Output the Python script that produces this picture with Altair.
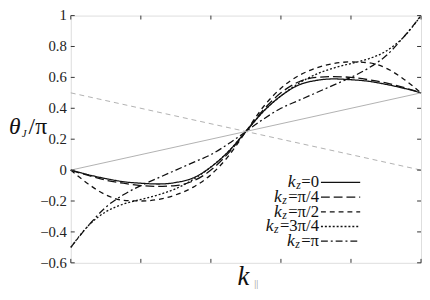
import altair as alt
import pandas as pd

# ---------------- data ----------------
k_par = [0.00, 0.05, 0.10, 0.15, 0.20, 0.25, 0.30, 0.35, 0.40, 0.45, 0.50,
         0.55, 0.60, 0.65, 0.70, 0.75, 0.80, 0.85, 0.90, 0.95, 1.00]

theta_kz0 = [0.00, -0.03, -0.055, -0.075, -0.085, -0.09, -0.08, -0.05, 0.02, 0.12, 0.25,
             0.38, 0.48, 0.55, 0.58, 0.59, 0.585, 0.575, 0.555, 0.53, 0.50]
theta_kz_pi4 = [0.00, -0.035, -0.065, -0.085, -0.10, -0.105, -0.10, -0.07, 0.00, 0.11, 0.25,
                0.39, 0.50, 0.57, 0.60, 0.605, 0.60, 0.585, 0.565, 0.535, 0.50]
theta_kz_pi2 = [0.00, -0.09, -0.16, -0.195, -0.20, -0.19, -0.16, -0.11, -0.03, 0.09, 0.25,
                0.41, 0.53, 0.61, 0.66, 0.69, 0.70, 0.695, 0.66, 0.59, 0.50]
theta_kz_3pi4 = [-0.50, -0.36, -0.27, -0.22, -0.19, -0.16, -0.12, -0.06, 0.02, 0.12, 0.25,
                 0.38, 0.48, 0.56, 0.62, 0.66, 0.69, 0.72, 0.77, 0.86, 1.00]
theta_kz_pi = [-0.50, -0.36, -0.24, -0.16, -0.10, -0.05, 0.00, 0.05, 0.10, 0.17, 0.25,
               0.33, 0.40, 0.45, 0.50, 0.55, 0.60, 0.66, 0.74, 0.86, 1.00]

series_names = ["kz=0", "kz=π/4", "kz=π/2", "kz=3π/4", "kz=π"]
legend_tails = ["=0", "=π/4", "=π/2", "=3π/4", "=π"]

ref_x = [0.0, 1.0]
ref_rise = [0.0, 0.5]
ref_fall = [0.5, 0.0]

y_ticks = [-0.6, -0.4, -0.2, 0.0, 0.2, 0.4, 0.6, 0.8, 1.0]
y_tick_labels = ["\u22120.6", "\u22120.4", "\u22120.2", "0", "0.2", "0.4", "0.6", "0.8", "1"]
x_ticks = [0.0, 0.2, 0.4, 0.6, 0.8, 1.0]

# ---------------- layout / style ----------------
W, H = 357, 252
SERIF = "Liberation Serif"
INK = "#111111"
dash_range = [[1, 0], [9, 4], [5, 4], [2, 2], [7, 3, 2, 3]]

all_series = [theta_kz0, theta_kz_pi4, theta_kz_pi2, theta_kz_3pi4, theta_kz_pi]
rows = []
for name, vals in zip(series_names, all_series):
    for xv, yv in zip(k_par, vals):
        rows.append({"k": xv, "theta": yv, "series": name})
curves_df = pd.DataFrame(rows)

xs = alt.Scale(domain=[0, 1], nice=False, zero=False)
ys = alt.Scale(domain=[-0.6, 1.0], nice=False, zero=False)
dash_scale = alt.Scale(domain=series_names, range=dash_range)
no_axis = alt.Axis(labels=False, ticks=False, domain=False, grid=False, title=None)

curves = alt.Chart(curves_df).mark_line(color=INK, strokeWidth=1.3, interpolate="monotone").encode(
    x=alt.X("k:Q", scale=xs, axis=no_axis),
    y=alt.Y("theta:Q", scale=ys, axis=no_axis),
    strokeDash=alt.StrokeDash("series:N", scale=dash_scale, legend=None),
    detail="series:N")

ref_df = pd.DataFrame({"k": ref_x, "rise": ref_rise, "fall": ref_fall})
rise = alt.Chart(ref_df).mark_line(color="#a8a8a8", strokeWidth=0.9).encode(x="k:Q", y="rise:Q")
fall = alt.Chart(ref_df).mark_line(color="#a8a8a8", strokeWidth=0.9, strokeDash=[5, 4]).encode(x="k:Q", y="fall:Q")

ytick_df = pd.DataFrame({"v": y_ticks, "lab": y_tick_labels})
xtick_df = pd.DataFrame({"v": x_ticks})
tl = 4
ytl = alt.Chart(ytick_df).mark_rule(color="#333", strokeWidth=1).encode(
    y="v:Q", x=alt.value(0), x2=alt.value(tl))
ytr = alt.Chart(ytick_df).mark_rule(color="#333", strokeWidth=1).encode(
    y="v:Q", x=alt.value(W - tl), x2=alt.value(W))
xtb = alt.Chart(xtick_df).mark_rule(color="#333", strokeWidth=1).encode(
    x="v:Q", y=alt.value(H), y2=alt.value(H - tl))
xtt = alt.Chart(xtick_df).mark_rule(color="#333", strokeWidth=1).encode(
    x="v:Q", y=alt.value(0), y2=alt.value(tl))
ylabels = alt.Chart(ytick_df).mark_text(font=SERIF, fontSize=15, align="right", baseline="middle",
                                        color="#222", dx=-4).encode(
    y="v:Q", x=alt.value(0), text="lab:N")

# ---------------- manual legend (labels left of the line samples) ----------------
char_w = {"=": 0.564, "0": 0.5, "2": 0.5, "3": 0.5, "4": 0.5, "/": 0.278, "π": 0.55}
dummy = pd.DataFrame({"a": [0]})
legend_layers = []
text_right = 253
rest_size, k_size, z_size = 17, 18, 12
for i, (tail, dash) in enumerate(zip(legend_tails, dash_range)):
    ly = 170 + 15 * i
    base = ly + 5
    legend_layers.append(alt.Chart(dummy).mark_rule(color=INK, strokeWidth=1.3, strokeDash=dash).encode(
        x=alt.value(255), x2=alt.value(295), y=alt.value(ly)))
    legend_layers.append(alt.Chart(dummy).mark_text(
        text=tail, font=SERIF, fontSize=rest_size, align="right", baseline="alphabetic", color=INK).encode(
        x=alt.value(text_right), y=alt.value(base)))
    w_tail = sum(char_w.get(c, 0.5) for c in tail) * rest_size
    zx = text_right - w_tail - 0.5
    legend_layers.append(alt.Chart(dummy).mark_text(
        text="z", font=SERIF, fontStyle="italic", fontSize=z_size, align="right", baseline="alphabetic", color=INK).encode(
        x=alt.value(zx), y=alt.value(base + 2)))
    kx = zx - 0.389 * z_size - 0.5
    legend_layers.append(alt.Chart(dummy).mark_text(
        text="k", font=SERIF, fontStyle="italic", fontSize=k_size, align="right", baseline="alphabetic", color=INK).encode(
        x=alt.value(kx), y=alt.value(base)))

# ---------------- axis titles ----------------
titles = [
    alt.Chart(dummy).mark_text(text="θ", font=SERIF, fontStyle="italic", fontSize=24, align="left",
                               baseline="alphabetic", color=INK).encode(x=alt.value(-63), y=alt.value(121)),
    alt.Chart(dummy).mark_text(text="J", font=SERIF, fontStyle="italic", fontSize=11, align="left",
                               baseline="alphabetic", color=INK).encode(x=alt.value(-50), y=alt.value(124)),
    alt.Chart(dummy).mark_text(text="/π", font=SERIF, fontSize=24, align="left",
                               baseline="alphabetic", color=INK).encode(x=alt.value(-43), y=alt.value(121)),
    alt.Chart(dummy).mark_text(text="k", font=SERIF, fontStyle="italic", fontSize=27, align="left",
                               baseline="alphabetic", color=INK).encode(x=alt.value(170), y=alt.value(275)),
    alt.Chart(dummy).mark_text(text="||", font=SERIF, fontSize=10, align="left",
                               baseline="alphabetic", color="#888").encode(x=alt.value(187), y=alt.value(277)),
]

chart = alt.layer(curves, rise, fall, ytl, ytr, xtb, xtt, ylabels, *legend_layers, *titles).properties(
    width=W, height=H,
    autosize=alt.AutoSizeParams(type="none"),
    padding={"left": 64, "top": 5, "right": 1, "bottom": 26},
).configure_view(stroke="#333", strokeWidth=1).configure(background="white")

chart.save("out.html", embed_options={"renderer": "svg", "actions": False})
